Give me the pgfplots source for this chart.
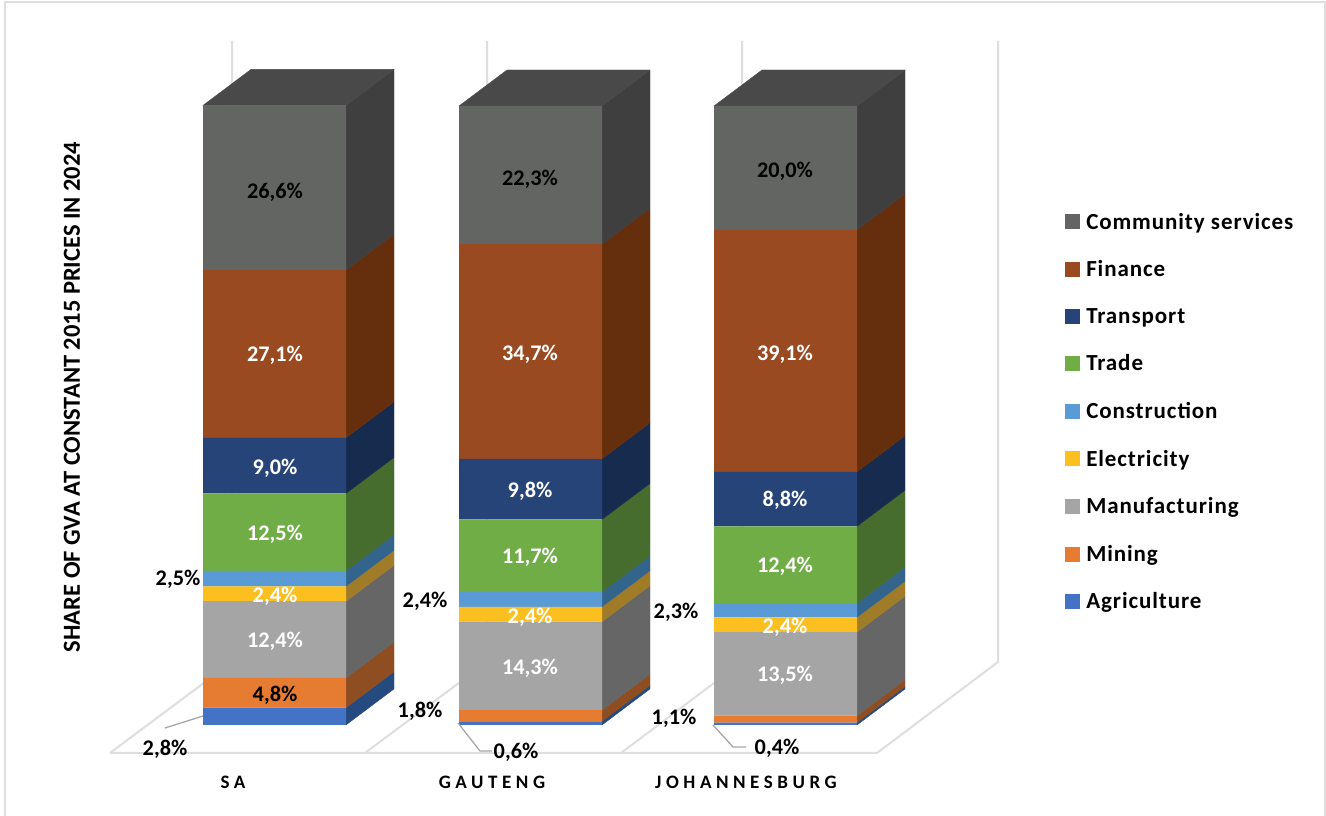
\documentclass[border=0pt]{standalone}
\usepackage{fontspec}
\setmainfont{Carlito}
\usepackage{pgfplots}
\usepackage{pgfplotstable}
\pgfplotsset{compat=1.18}

% front, flank and top colours
\definecolor{cComm}{HTML}{636563}\definecolor{sComm}{HTML}{3F3F3F}\definecolor{tComm}{HTML}{494949}
\definecolor{cFin}{HTML}{9A4A20}\definecolor{sFin}{HTML}{652F0E}
\definecolor{cTra}{HTML}{264478}\definecolor{sTra}{HTML}{172B4F}
\definecolor{cTrd}{HTML}{70AD47}\definecolor{sTrd}{HTML}{466C2E}
\definecolor{cCon}{HTML}{5B9BD5}\definecolor{sCon}{HTML}{33658C}
\definecolor{cEle}{HTML}{FBBF1F}\definecolor{sEle}{HTML}{A17C28}
\definecolor{cMan}{HTML}{A5A5A5}\definecolor{sMan}{HTML}{666666}
\definecolor{cMin}{HTML}{E67C32}\definecolor{sMin}{HTML}{8F4D22}
\definecolor{cAgr}{HTML}{4472C4}\definecolor{sAgr}{HTML}{254A80}
\definecolor{wallgrey}{HTML}{DEDEDE}
\definecolor{leadgrey}{HTML}{A6A6A6}

% share of GVA per sector, in percent
\pgfplotstableread{
x     Agr Min Man  Ele Con Trd  Tra Fin  Com
274.5 2.8 4.8 12.4 2.4 2.5 12.5 9.0 27.1 26.6
530.5 0.6 1.8 14.3 2.4 2.4 11.7 9.8 34.7 22.3
785.5 0.4 1.1 13.5 2.4 2.3 12.4 8.8 39.1 20.0
}\gvatable

\def\depthx{48}
\def\depthy{5.816}

\pgfplotsset{
  canvas/.style={
    width=1326pt,height=816pt,scale only axis,
    xmin=0,xmax=1326,ymin=-14.701,ymax=117.124,
    clip=false,axis lines=none,
  },
  swatch/.style={legend image code/.code={\fill[##1] (0pt,-7.5pt) rectangle (15pt,7.5pt);\path (21pt,0pt);}},
}

% one flank of a stack segment; \cum holds the height reached so far
\newcommand\flank[3]{%
  \pgfmathsetmacro\nx{#1+\depthx}%
  \pgfmathsetmacro\hi{\cum+#2}%
  \pgfmathsetmacro\lob{\cum+\depthy}%
  \pgfmathsetmacro\hib{\hi+\depthy}%
  \edef\tmp{\noexpand\addplot[fill=#3,draw=#3,line width=0.3pt,no markers,forget plot]
    coordinates {(#1,\cum) (\nx,\lob) (\nx,\hib) (#1,\hi)} -- cycle;}%
  \tmp
  \xdef\cum{\hi}%
}
% all flanks of a column plus its lid
\newcommand\flanks[2]{%
  \gdef\cum{0}%
  \pgfmathsetmacro\right{#1+143}%
  \edef\doit{\noexpand\columnflanks{\right}#2}\doit
  \pgfmathsetmacro\nl{#1+\depthx}\pgfmathsetmacro\nr{\right+\depthx}%
  \pgfmathsetmacro\lid{\cum+\depthy}%
  \edef\tmp{\noexpand\addplot[fill=tComm,draw=tComm,line width=0.3pt,no markers,forget plot]
    coordinates {(#1,\cum) (\nl,\lid) (\nr,\lid) (\right,\cum)} -- cycle;}%
  \tmp
}
\newcommand\columnflanks[4]{%
  \flank{#1}{#2}{sAgr}\flank{#1}{#3}{sMin}\flank{#1}{#4}{sMan}\columnflanksB{#1}%
}
\newcommand\columnflanksB[7]{%
  \flank{#1}{#2}{sEle}\flank{#1}{#3}{sCon}\flank{#1}{#4}{sTrd}%
  \flank{#1}{#5}{sTra}\flank{#1}{#6}{sFin}\flank{#1}{#7}{sComm}%
}

% text helpers, positions given from the top of the canvas
\newcommand\lab[4]{\node[text=#3,font=\fontsize{22.3}{25}\selectfont\bfseries,inner sep=0pt] at (axis cs:#1,{(725-#2)/6.19}) {#4};}
\newcommand\cat[2]{\node[text=black,font=\fontsize{19}{22}\selectfont\bfseries\addfontfeature{LetterSpace=24},inner sep=0pt] at (axis cs:#1,{(725-782)/6.19}) {#2};}

\begin{document}
\begin{tikzpicture}
\useasboundingbox (0,0) rectangle (1326pt,816pt);
% outer frame, floor and back walls, then flanks
\begin{axis}[canvas]
  \addplot[wallgrey,line width=2pt,no markers,forget plot] coordinates {(5,-14.7) (5,116.8) (1325,116.8) (1325,-14.7)};
  \addplot[wallgrey,line width=2pt,no markers,forget plot] coordinates {(110,-4.52) (877,-4.52) (998,10.18) (998,110.5)};
  \addplot[wallgrey,line width=2pt,no markers,forget plot] coordinates {(110,-4.52) (232,10.18) (232,110.5)};
  \addplot[wallgrey,line width=2pt,no markers,forget plot] coordinates {(365,-4.52) (487,10.18) (487,110.5)};
  \addplot[wallgrey,line width=2pt,no markers,forget plot] coordinates {(621,-4.52) (742,10.18) (742,110.5)};
  \flanks{203}{{2.8}{4.8}{12.4}{2.4}{2.5}{12.5}{9.0}{27.1}{26.6}}
  \flanks{459}{{0.6}{1.8}{14.3}{2.4}{2.4}{11.7}{9.8}{34.7}{22.3}}
  \flanks{714}{{0.4}{1.1}{13.5}{2.4}{2.3}{12.4}{8.8}{39.1}{20.0}}
\end{axis}
% front faces and legend
\begin{axis}[canvas,
  ybar stacked,bar width=143,
  reverse legend,legend cell align=left,
  legend style={at={(axis description cs:0.8032,0.7393)},anchor=north west,draw=none,fill=none,
    row sep=30pt,font=\fontsize{23}{27}\selectfont\bfseries\addfontfeature{LetterSpace=4},inner sep=0pt,
    nodes={inner sep=0pt,text=black}},
]
  \addplot[fill=cAgr,draw=none,swatch] table[x=x,y=Agr]{\gvatable}; \addlegendentry{Agriculture}
  \addplot[fill=cMin,draw=none,swatch] table[x=x,y=Min]{\gvatable}; \addlegendentry{Mining}
  \addplot[fill=cMan,draw=none,swatch] table[x=x,y=Man]{\gvatable}; \addlegendentry{Manufacturing}
  \addplot[fill=cEle,draw=none,swatch] table[x=x,y=Ele]{\gvatable}; \addlegendentry{Electricity}
  \addplot[fill=cCon,draw=none,swatch] table[x=x,y=Con]{\gvatable}; \addlegendentry{Construction}
  \addplot[fill=cTrd,draw=none,swatch] table[x=x,y=Trd]{\gvatable}; \addlegendentry{Trade}
  \addplot[fill=cTra,draw=none,swatch] table[x=x,y=Tra]{\gvatable}; \addlegendentry{Transport}
  \addplot[fill=cFin,draw=none,swatch] table[x=x,y=Fin]{\gvatable}; \addlegendentry{Finance}
  \addplot[fill=cComm,draw=none,swatch] table[x=x,y=Com]{\gvatable}; \addlegendentry{Community services}
\end{axis}
% value labels, leader lines, category names and the vertical title
\begin{axis}[canvas]
  \draw[leadgrey,line width=1.3pt] (axis cs:203,{(725-716)/6.19}) -- (axis cs:165,{(725-728)/6.19});
  \draw[leadgrey,line width=1.3pt] (axis cs:458,{(725-723)/6.19}) -- (axis cs:480,{(725-751)/6.19}) -- (axis cs:492,{(725-751)/6.19});
  \draw[leadgrey,line width=1.3pt] (axis cs:713,{(725-725)/6.19}) -- (axis cs:733,{(725-747)/6.19}) -- (axis cs:746,{(725-747)/6.19});

  \lab{275}{192}{black}{26,6\%}
  \lab{275}{355}{white}{27,1\%}
  \lab{275}{468}{white}{9,0\%}
  \lab{275}{534}{white}{12,5\%}
  \lab{178}{579}{black}{2,5\%}
  \lab{275}{596}{white}{2,4\%}
  \lab{275}{641}{white}{12,4\%}
  \lab{275}{695}{black}{4,8\%}
  \lab{165}{749}{black}{2,8\%}
  \lab{530}{179}{black}{22,3\%}
  \lab{530}{354}{white}{34,7\%}
  \lab{530}{491}{white}{9,8\%}
  \lab{530}{557}{white}{11,7\%}
  \lab{425}{601}{black}{2,4\%}
  \lab{530}{617}{white}{2,4\%}
  \lab{530}{668}{white}{14,3\%}
  \lab{420}{711}{black}{1,8\%}
  \lab{516}{752}{black}{0,6\%}
  \lab{785}{171}{black}{20,0\%}
  \lab{785}{354}{white}{39,1\%}
  \lab{785}{500}{white}{8,8\%}
  \lab{785}{566}{white}{12,4\%}
  \lab{676}{612}{black}{2,3\%}
  \lab{785}{627}{white}{2,4\%}
  \lab{785}{675}{white}{13,5\%}
  \lab{674}{718}{black}{1,1\%}
  \lab{777}{748}{black}{0,4\%}

  \cat{233}{SA}
  \cat{492}{GAUTENG}
  \cat{746}{JOHANNESBURG}
  \node[rotate=90,text=black,inner sep=0pt,font=\fontsize{24.5}{28}\selectfont\bfseries]
    at (axis cs:72,{(725-397)/6.19}) {SHARE OF GVA AT CONSTANT 2015 PRICES IN 2024};
\end{axis}
\end{tikzpicture}
\end{document}
